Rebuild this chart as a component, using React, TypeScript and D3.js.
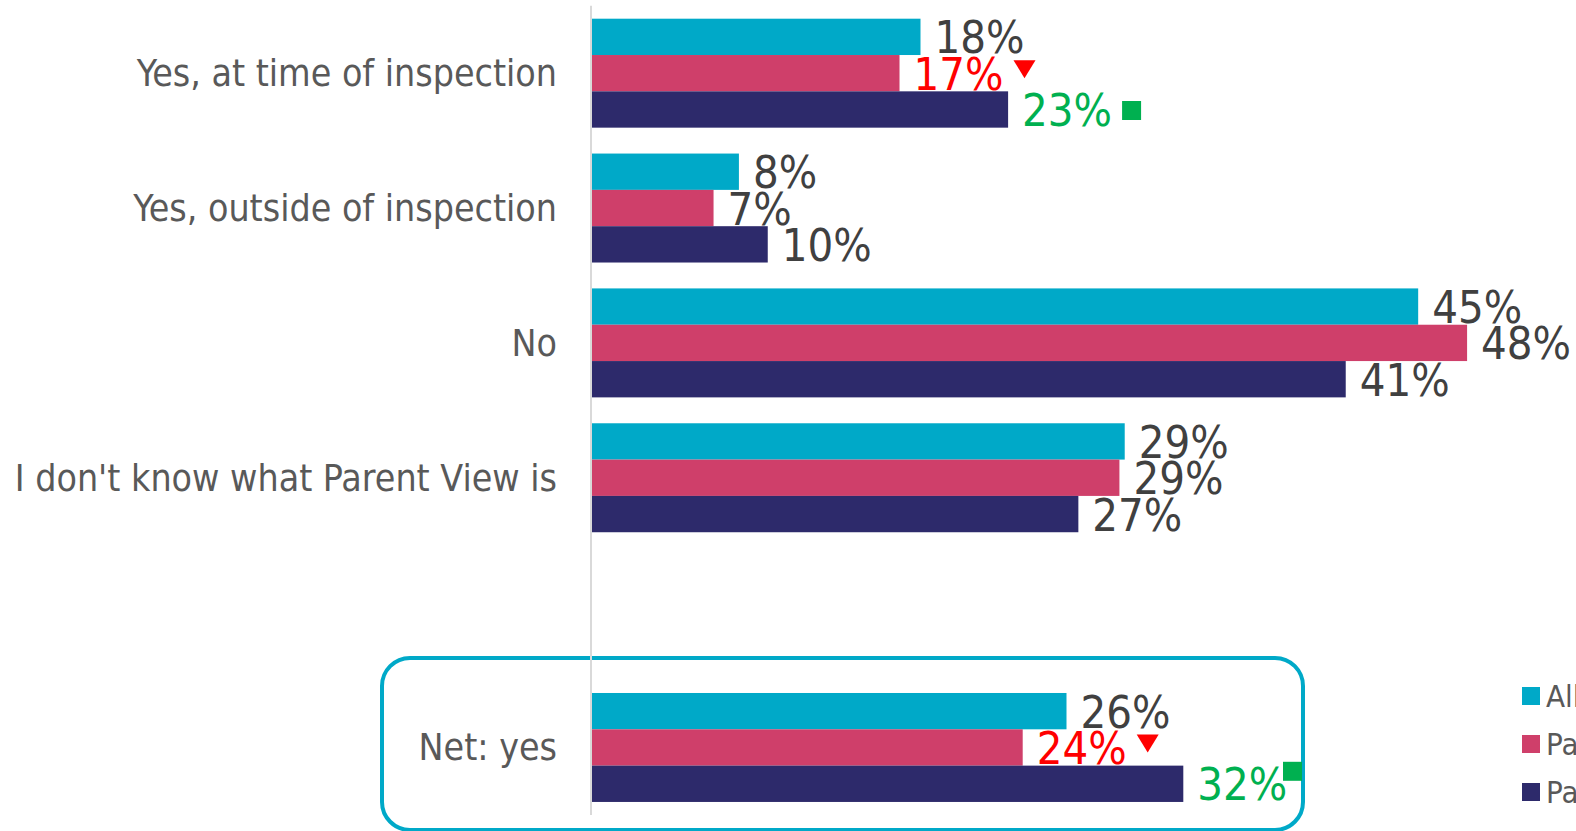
import React, { useEffect, useRef } from "react";
import * as d3 from "d3";

const categories = [
  "Yes, at time of inspection",
  "Yes, outside of inspection",
  "No",
  "I don't know what Parent View is",
  " ",
  "Net: yes",
];
const seriesNames = ["All parents", "Parents – not inspected", "Parents – inspected"];
const allParents = [18.0, 8.05, 45.27, 29.19, null, 26.0];
const notInspected = [16.85, 6.66, 47.95, 28.9, null, 23.6];
const inspected = [22.8, 9.63, 41.3, 26.65, null, 32.4];
// significance markers: "down" = significantly lower, "up" = significantly higher
const sigNotInspected = ["down", null, null, null, null, "down"];
const sigInspected = ["up", null, null, null, null, "up"];
const highlighted = "Net: yes";

const COLORS = ["#00A9C8", "#CF3F6A", "#2D2A6B"];
const W = 1576;
const H = 831;

export default function App() {
  const ref = useRef<SVGSVGElement>(null);
  useEffect(() => {
    const svg = d3.select(ref.current);
    svg.selectAll("*").remove();
    const values = [allParents, notInspected, inspected];
    const sigs = [null, sigNotInspected, sigInspected];

    const x = d3.scaleLinear().domain([0, 100]).range([592, 592 + 1825]);
    const y = d3
      .scaleBand<string>()
      .domain(categories)
      .range([5.75, 814.9])
      .paddingInner(0.192)
      .paddingOuter(0.096);
    const ys = d3.scaleBand<string>().domain(seriesNames).range([0, y.bandwidth()]);

    // highlight box
    const hy = y(highlighted)!;
    svg
      .append("rect")
      .attr("x", 382)
      .attr("y", hy - 35)
      .attr("width", 921)
      .attr("height", y.bandwidth() + 63)
      .attr("rx", 28)
      .attr("fill", "none")
      .attr("stroke", "#00A9C8")
      .attr("stroke-width", 4);

    // axis line
    svg
      .append("line")
      .attr("x1", 591)
      .attr("x2", 591)
      .attr("y1", y.range()[0])
      .attr("y2", y.range()[1])
      .attr("stroke", "#D9D9D9")
      .attr("stroke-width", 2);

    // category labels
    svg
      .append("g")
      .selectAll("text")
      .data(categories.filter((c) => c.trim() !== ""))
      .join("text")
      .attr("x", 557)
      .attr("y", (c) => y(c)! + y.bandwidth() / 2)
      .attr("text-anchor", "end")
      .attr("dominant-baseline", "central")
      .attr("font-family", "'DejaVu Sans Condensed', 'DejaVu Sans', sans-serif")
      .attr("font-size", 37.2)
      .attr("fill", "#595959")
      .text((c) => c);

    const boxRight = 382 + 921;

    values.forEach((vals, si) => {
      const g = svg.append("g");
      vals.forEach((v, ci) => {
        if (v == null) return;
        const cat = categories[ci];
        const top = y(cat)! + ys(seriesNames[si])!;
        const bh = ys.bandwidth();
        const cy = top + bh / 2;
        g.append("rect")
          .attr("x", x(0))
          .attr("y", top)
          .attr("width", x(v) - x(0))
          .attr("height", bh)
          .attr("fill", COLORS[si]);
        const sig = sigs[si] ? sigs[si]![ci] : null;
        const color = sig === "down" ? "#FF0000" : sig === "up" ? "#00B050" : "#404040";
        const t = g
          .append("text")
          .attr("x", x(v) + 14)
          .attr("y", cy + 1)
          .attr("dominant-baseline", "central")
          .attr("font-family", "'DejaVu Sans Condensed', 'DejaVu Sans', sans-serif")
          .attr("font-size", 45)
          .attr("fill", color)
          .text(Math.round(v) + "%");
        if (sig) {
          const len = (t.node() as SVGTextElement).getComputedTextLength();
          let mx = x(v) + 14 + len + 10;
          const my = cy;
          if (sig === "down") {
            const s = 22;
            g.append("path")
              .attr(
                "d",
                `M${mx},${my - 13} L${mx + s},${my - 13} L${mx + s / 2},${my + 5} Z`
              )
              .attr("fill", "#FF0000");
          } else {
            const s = 19;
            let ty = my - s / 2 + 1;
            if (mx + s > boxRight - 2) {
              mx = boxRight - 1 - s;
              ty = my - 22;
            }
            g.append("rect")
              .attr("x", mx)
              .attr("y", ty)
              .attr("width", s)
              .attr("height", s)
              .attr("fill", "#00B050");
          }
        }
      });
    });

    // legend
    const lg = svg.append("g");
    seriesNames.forEach((n, i) => {
      const ly = 696 + i * 48;
      lg.append("rect")
        .attr("x", 1522)
        .attr("y", ly - 9)
        .attr("width", 18)
        .attr("height", 18)
        .attr("fill", COLORS[i]);
      lg.append("text")
        .attr("x", 1546)
        .attr("y", ly)
        .attr("dominant-baseline", "central")
        .attr("font-family", "'DejaVu Sans Condensed', 'DejaVu Sans', sans-serif")
        .attr("font-size", 31)
        .attr("fill", "#595959")
        .text(n);
    });
  }, []);
  return (
    <svg
      ref={ref}
      width={W}
      height={H}
      style={{ position: "absolute", left: 0, top: 0, display: "block", background: "#fff" }}
    />
  );
}
